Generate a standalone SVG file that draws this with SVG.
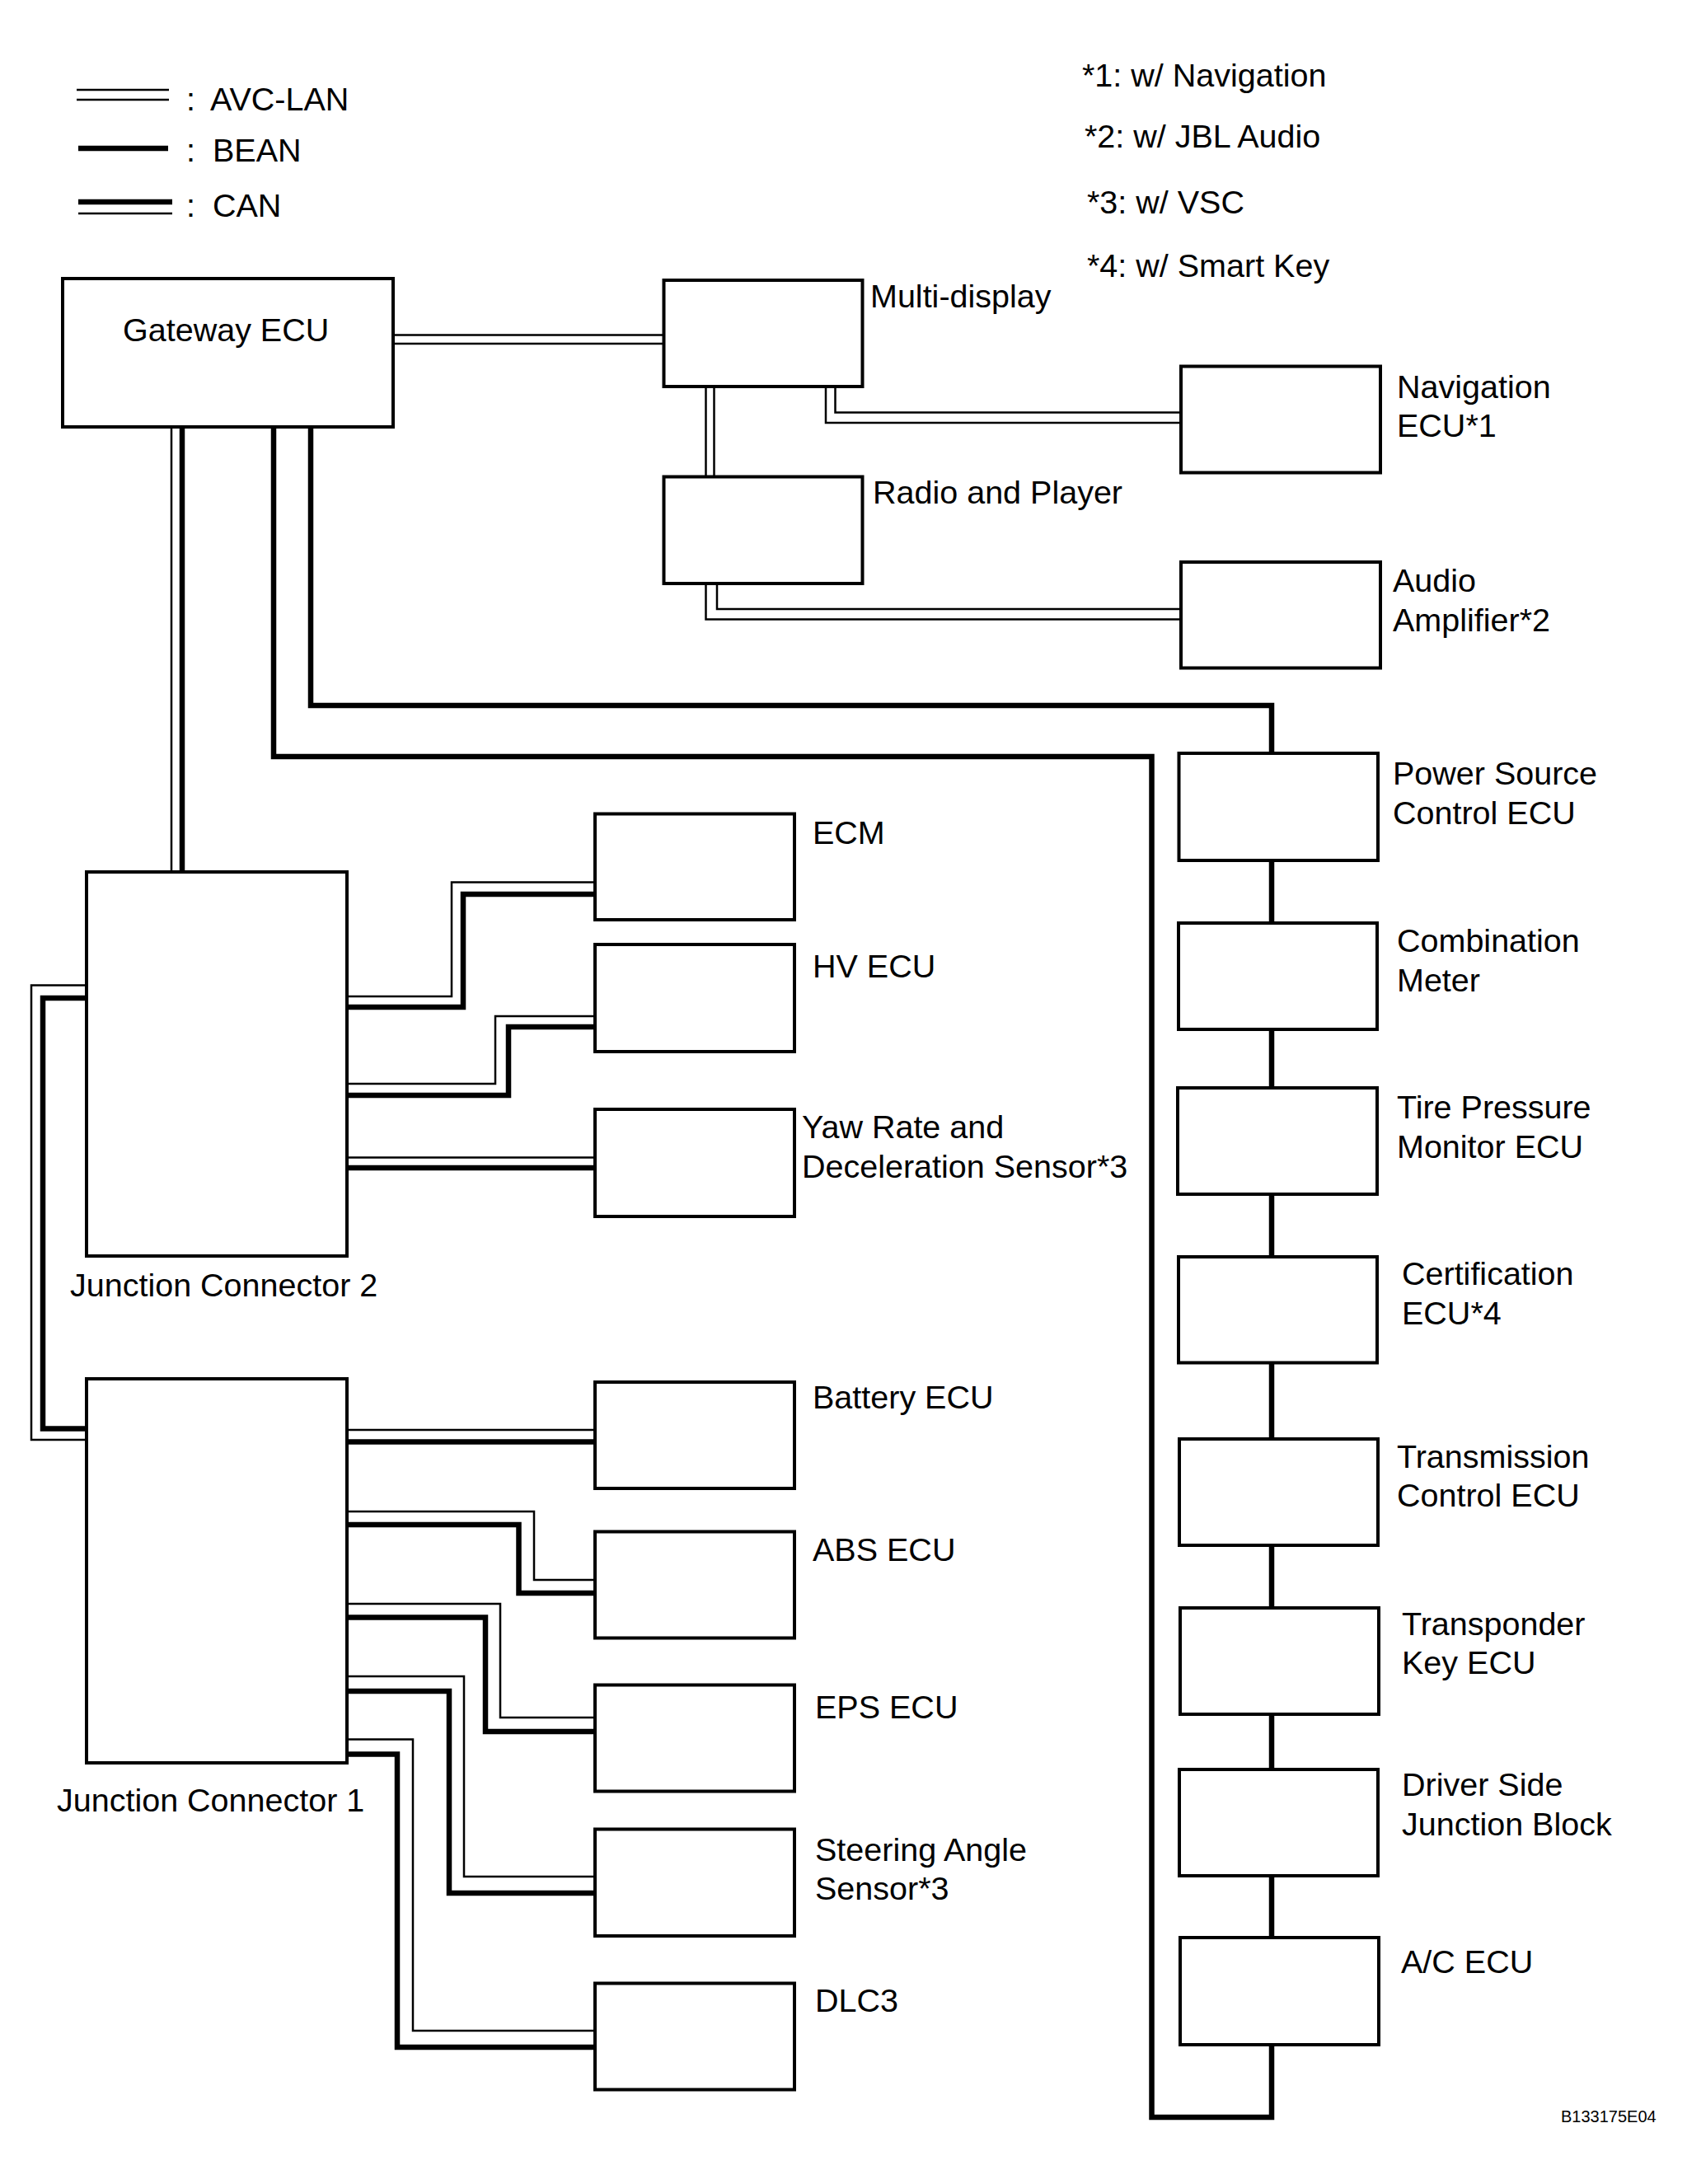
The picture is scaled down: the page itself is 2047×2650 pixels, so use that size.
<svg xmlns="http://www.w3.org/2000/svg" width="2047" height="2650" viewBox="0 0 2047 2650">
<style>
.box{fill:#fff;stroke:#000;stroke-width:4}
.thin{fill:none;stroke:#000;stroke-width:2.5;stroke-linejoin:miter}
.thick{fill:none;stroke:#000;stroke-width:6.5;stroke-linejoin:miter}
text{font-family:"Liberation Sans",Arial,sans-serif;font-size:39.5px;fill:#000}
.code{font-size:20px}
</style>
<rect width="2047" height="2650" fill="#fff"/>
<g id="legend">
<line class="thin" x1="93" y1="109" x2="205" y2="109"/>
<line class="thin" x1="93" y1="121" x2="205" y2="121"/>
<text x="226" y="134">:</text><text x="255" y="134">AVC-LAN</text>
<line class="thick" x1="95" y1="180" x2="204" y2="180"/>
<text x="226" y="196">:</text><text x="258" y="196">BEAN</text>
<line class="thick" x1="95" y1="245" x2="209" y2="245"/>
<line class="thin" x1="95" y1="259" x2="209" y2="259"/>
<text x="226" y="263">:</text><text x="258" y="263">CAN</text>
</g>
<g id="footnotes">
<text x="1313" y="105">*1: w/ Navigation</text>
<text x="1316" y="179">*2: w/ JBL Audio</text>
<text x="1319" y="259">*3: w/ VSC</text>
<text x="1319" y="336">*4: w/ Smart Key</text>
</g>
<g id="connectors">
<line class="thin" x1="477" y1="406.5" x2="805" y2="406.5"/>
<line class="thin" x1="477" y1="417" x2="805" y2="417"/>
<line class="thin" x1="856.5" y1="469" x2="856.5" y2="578"/>
<line class="thin" x1="866.5" y1="469" x2="866.5" y2="578"/>
<polyline class="thin" points="1013.5,469 1013.5,500.5 1433,500.5"/>
<polyline class="thin" points="1002,469 1002,513 1433,513"/>
<polyline class="thin" points="870,708 870,739 1433,739"/>
<polyline class="thin" points="856.5,708 856.5,751.5 1433,751.5"/>
<line class="thin" x1="208" y1="518" x2="208" y2="1058"/>
<line class="thick" x1="221" y1="518" x2="221" y2="1058"/>
<polyline class="thick" points="377,515 377,856 1543,856 1543,914"/>
<polyline class="thick" points="332,515 332,918 1397.5,918 1397.5,2569 1543,2569 1543,2481"/>
<line class="thick" x1="1543" y1="1044" x2="1543" y2="1120"/>
<line class="thick" x1="1543" y1="1249" x2="1543" y2="1320"/>
<line class="thick" x1="1543" y1="1449" x2="1543" y2="1525"/>
<line class="thick" x1="1543" y1="1653" x2="1543" y2="1746"/>
<line class="thick" x1="1543" y1="1875" x2="1543" y2="1951"/>
<line class="thick" x1="1543" y1="2080" x2="1543" y2="2147"/>
<line class="thick" x1="1543" y1="2276" x2="1543" y2="2351"/>
<polyline class="thin" points="105,1195.5 38,1195.5 38,1747 105,1747"/>
<polyline class="thick" points="105,1211 52,1211 52,1733.5 105,1733.5"/>
<polyline class="thin" points="421,1209 548,1209 548,1070.5 722,1070.5"/>
<polyline class="thick" points="421,1222 562,1222 562,1085 722,1085"/>
<polyline class="thin" points="421,1315 601,1315 601,1233 722,1233"/>
<polyline class="thick" points="421,1329 617,1329 617,1246 722,1246"/>
<line class="thin" x1="421" y1="1404.5" x2="722" y2="1404.5"/>
<line class="thick" x1="421" y1="1417" x2="722" y2="1417"/>
<line class="thin" x1="421" y1="1735" x2="722" y2="1735"/>
<line class="thick" x1="421" y1="1749.5" x2="722" y2="1749.5"/>
<polyline class="thin" points="421,1834 648,1834 648,1917 722,1917"/>
<polyline class="thick" points="421,1850 629.5,1850 629.5,1933 722,1933"/>
<polyline class="thin" points="421,1946 607,1946 607,2084 722,2084"/>
<polyline class="thick" points="421,1962.5 589,1962.5 589,2101 722,2101"/>
<polyline class="thin" points="421,2034 563,2034 563,2277 722,2277"/>
<polyline class="thick" points="421,2052 545,2052 545,2297 722,2297"/>
<polyline class="thin" points="421,2110.5 501,2110.5 501,2464 722,2464"/>
<polyline class="thick" points="421,2128.5 482,2128.5 482,2484 722,2484"/>
</g>
<g id="gateway"><rect class="box" x="76" y="338" width="401" height="180"/><text x="149" y="414">Gateway ECU</text></g>
<g id="multi-display"><rect class="box" x="805.5" y="340" width="241" height="129"/><text x="1056" y="373">Multi-display</text></g>
<g id="radio"><rect class="box" x="805.5" y="578.5" width="241" height="129.5"/><text x="1059" y="611">Radio and Player</text></g>
<g id="navigation"><rect class="box" x="1433" y="444.5" width="242" height="129"/><text x="1695" y="483">Navigation</text><text x="1695" y="530">ECU*1</text></g>
<g id="audio"><rect class="box" x="1433" y="682" width="242" height="128.5"/><text x="1690" y="718">Audio</text><text x="1690" y="766">Amplifier*2</text></g>
<g id="power-source"><rect class="box" x="1430.5" y="914" width="241.5" height="130"/><text x="1690" y="952">Power Source</text><text x="1690" y="1000">Control ECU</text></g>
<g id="combination-meter"><rect class="box" x="1430" y="1120" width="241" height="129"/><text x="1695" y="1155">Combination</text><text x="1695" y="1203">Meter</text></g>
<g id="tire-pressure"><rect class="box" x="1429" y="1320" width="242" height="129"/><text x="1695" y="1357">Tire Pressure</text><text x="1695" y="1405">Monitor ECU</text></g>
<g id="certification"><rect class="box" x="1430" y="1525" width="241" height="128.5"/><text x="1701" y="1559">Certification</text><text x="1701" y="1607">ECU*4</text></g>
<g id="transmission"><rect class="box" x="1431" y="1746" width="241" height="129"/><text x="1695" y="1781">Transmission</text><text x="1695" y="1828">Control ECU</text></g>
<g id="transponder"><rect class="box" x="1432" y="1951" width="241" height="129"/><text x="1701" y="1984">Transponder</text><text x="1701" y="2031">Key ECU</text></g>
<g id="driver-side-jb"><rect class="box" x="1431" y="2147" width="241" height="129"/><text x="1701" y="2179">Driver Side</text><text x="1701" y="2227">Junction Block</text></g>
<g id="ac-ecu"><rect class="box" x="1432" y="2351" width="241" height="130"/><text x="1700" y="2394">A/C ECU</text></g>
<g id="jc2"><rect class="box" x="105" y="1058" width="316" height="466"/><text x="85" y="1573">Junction Connector 2</text></g>
<g id="jc1"><rect class="box" x="105" y="1673" width="316" height="466"/><text x="69" y="2198">Junction Connector 1</text></g>
<g id="ecm"><rect class="box" x="722" y="987.5" width="242" height="128.5"/><text x="986" y="1024">ECM</text></g>
<g id="hv-ecu"><rect class="box" x="722" y="1146" width="242" height="130"/><text x="986" y="1186">HV ECU</text></g>
<g id="yaw-rate"><rect class="box" x="722" y="1346" width="242" height="130"/><text x="973" y="1381">Yaw Rate and</text><text x="973" y="1429">Deceleration Sensor*3</text></g>
<g id="battery-ecu"><rect class="box" x="722" y="1677" width="242" height="129"/><text x="986" y="1709">Battery ECU</text></g>
<g id="abs-ecu"><rect class="box" x="722" y="1858.5" width="242" height="129"/><text x="986" y="1894">ABS ECU</text></g>
<g id="eps-ecu"><rect class="box" x="722" y="2044.5" width="242" height="129"/><text x="989" y="2085">EPS ECU</text></g>
<g id="steering-angle"><rect class="box" x="722" y="2219.5" width="242" height="129.5"/><text x="989" y="2258">Steering Angle</text><text x="989" y="2305">Sensor*3</text></g>
<g id="dlc3"><rect class="box" x="722" y="2406.5" width="242" height="129"/><text x="989" y="2441">DLC3</text></g>
<text class="code" x="1894" y="2575">B133175E04</text>
</svg>
